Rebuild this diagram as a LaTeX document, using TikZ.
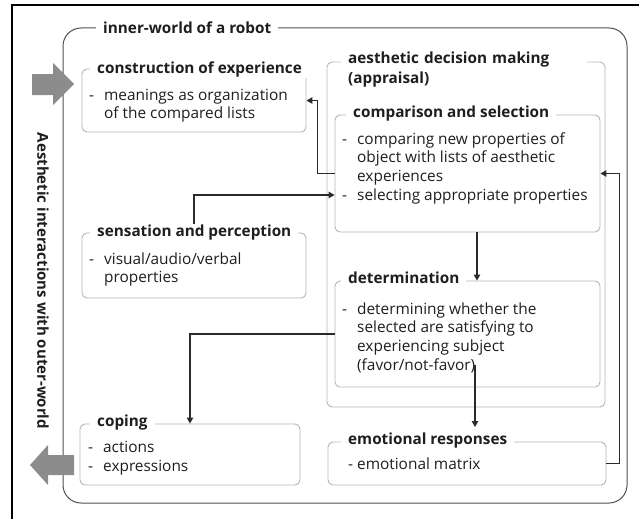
\documentclass[tikz,border=0pt]{standalone}
\usepackage{fontspec}
\setmainfont{Open Sans}
\usetikzlibrary{arrows.meta,calc}
\definecolor{boxgray}{HTML}{B4B4B4}
\definecolor{worldgray}{HTML}{505050}
\definecolor{linegray}{HTML}{2A2A2A}
\definecolor{arrgray}{HTML}{8C8C8C}
\definecolor{txt}{HTML}{1E1E1E}
\tikzset{
  box/.style={draw=boxgray, line width=0.9pt, rounded corners=5pt, minimum width=#1, inner sep=0pt},
  ttl/.style={fill=white, inner xsep=7pt, inner ysep=1pt, anchor=west, font=\fontsize{15.3}{19}\selectfont\bfseries, text=txt},
  body/.style={anchor=north west, align=left, inner sep=0pt, font=\fontsize{15.4}{18.7}\selectfont, text=txt},
  conn/.style={draw=linegray, line width=1.1pt, -{Triangle[length=6pt,width=6.5pt]}},
  bigarrow/.style={fill=arrgray, draw=none}
}
\begin{document}
\begin{tikzpicture}[x=1pt,y=-1pt]
\useasboundingbox (0,0) rectangle (639,519);
% frame lines (left and top only visible)
\draw[black, line width=1.6pt] (12,519) -- (12,5) -- (639,5);
% inner world
\node[draw=worldgray, line width=1pt, rounded corners=18pt, minimum width=564pt, minimum height=475pt, inner sep=0pt] (world) at (345,265.5) {};
\node[ttl] (worldt) at (96,28) {inner-world of a robot};
% boxes
\node[box=224pt, minimum height=63pt] (constr) at (194,100.5) {};
\node[ttl] (constrt) at (90,69) {construction of experience};
\node[body] (constrb) at (89,87) {-\hspace{10pt}\begin{tabular}[t]{@{}l@{}}meanings as organization\\of the compared lists\end{tabular}};

\node[box=224pt, minimum height=65pt] (sens) at (194,265.5) {};
\node[ttl] (senst) at (90,233) {sensation and perception};
\node[body] (sensb) at (89,251) {-\hspace{10pt}\begin{tabular}[t]{@{}l@{}}visual/audio/verbal\\properties\end{tabular}};

\node[box=278pt, minimum height=345pt] (adm) at (466,234.5) {};
\node[ttl, align=left, anchor=north west, inner ysep=1pt, text width=232pt, font=\fontsize{15.3}{20}\selectfont\bfseries] (admt) at (341,51) {aesthetic decision making\\(appraisal)};

\node[box=265pt, minimum height=117pt] (comp) at (467.5,173.5) {};
\node[ttl] (compt) at (346,114) {comparison and selection};
\node[body] (compb) at (342,131) {-\hspace{10pt}\begin{tabular}[t]{@{}l@{}}comparing new properties of\\object with lists of aesthetic\\experiences\end{tabular}\\-\hspace{10pt}selecting appropriate properties};

\node[box=265pt, minimum height=106pt] (det) at (467.5,334) {};
\node[ttl] (dett) at (341,278) {determination};
\node[body] (detb) at (342,301) {-\hspace{10pt}\begin{tabular}[t]{@{}l@{}}determining whether the\\selected are satisfying to\\experiencing subject\\(favor/not-favor)\end{tabular}};

\node[box=278pt, minimum height=43pt] (emo) at (467,463.5) {};
\node[ttl] (emot) at (341,441) {emotional responses};
\node[body] (emob) at (348,458) {- emotional matrix};

\node[box=220pt, minimum height=61pt] (coping) at (190,454.5) {};
\node[ttl] (copingt) at (90,423) {coping};
\node[body] (copingb) at (88,441) {-\hspace{10pt}actions\\-\hspace{10pt}expressions};

% side label
\node[rotate=-90, font=\fontsize{15}{18}\selectfont\bfseries, text=txt, inner sep=0pt] (side) at (43,281) {Aesthetic interactions with outer-world};

% big gray arrows
\fill[bigarrow] (32,74) -- (53,74) -- (53,63) -- (74,84) -- (53,105) -- (53,95) -- (32,95) -- cycle;
\fill[bigarrow] (74,455) -- (48,455) -- (48,445) -- (30,465) -- (48,485) -- (48,475) -- (74,475) -- cycle;

% connectors
\draw[conn] (comp.west) -- ++(-17,0) |- (constr.east);
\draw[conn] (senst.north -| sens.north) |- ([yshift=-21.5pt]comp.west);
\draw[conn] ([xshift=9.5pt]comp.south) -- ([xshift=9.5pt]det.north);
\draw[conn] (det.west) -| (coping.north);
\coordinate (detout) at ([xshift=7.5pt,yshift=-31pt]det.center);
\draw[conn] (detout) -- (detout |- 0,427);
\draw[conn] (emo.east) -- ++(13,0) |- (comp.east);
\end{tikzpicture}
\end{document}
